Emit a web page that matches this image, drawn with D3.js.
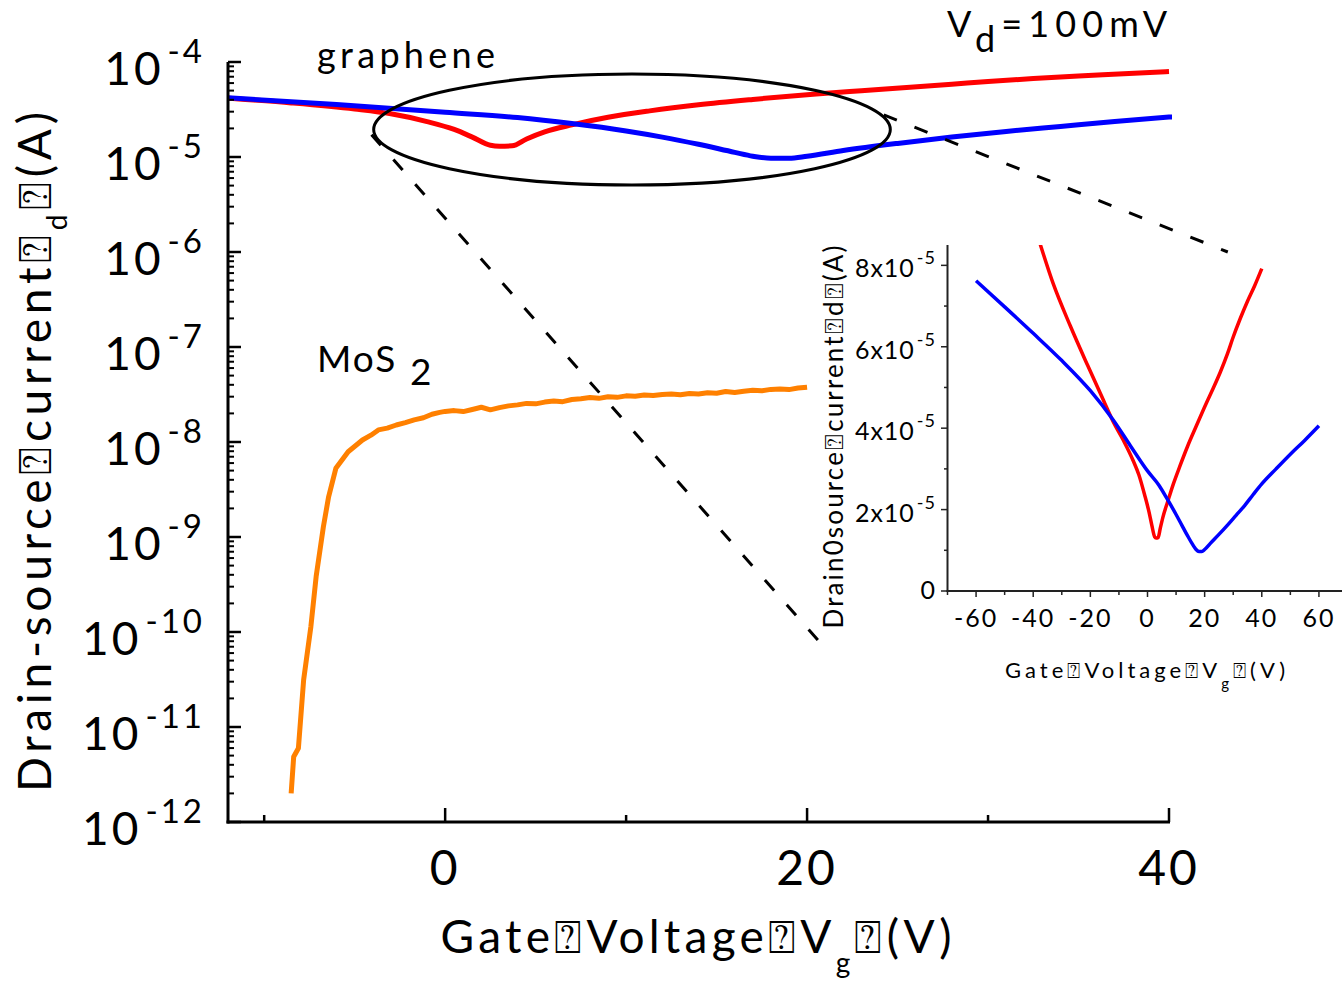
<!DOCTYPE html>
<html><head><meta charset="utf-8">
<script src="https://cdn.jsdelivr.net/npm/d3@7"></script>
<style>
body{margin:0;background:#fff}
svg{display:block}
text{font-family:Lato,"Open Sans",sans-serif;fill:#000}
</style>
</head><body>
<svg id="c" width="1342" height="986"></svg>
<script>
// ---------- data ----------
// graphene, red device: gate voltage (V) and drain current (A)
const redV = [-38, -33, -27, -21, -15, -12, -8.5, -5, -3, -1, 0.5, 1.5, 2.5, 3.0, 3.7, 4.5, 5.5, 7, 9, 11.3, 14, 17, 20.5, 23, 25.5, 28, 30, 32.5, 35, 37.5, 40];
const redI = [8.62e-5, 7.55e-5, 6.51e-5, 5.55e-5, 4.62e-5, 4.16e-5, 3.71e-5, 3.20e-5, 2.85e-5, 2.36e-5, 1.95e-5, 1.62e-5, 1.33e-5, 1.30e-5, 1.31e-5, 1.55e-5, 1.84e-5, 2.18e-5, 2.62e-5, 3.06e-5, 3.55e-5, 4.04e-5, 4.60e-5, 4.98e-5, 5.38e-5, 5.83e-5, 6.24e-5, 6.70e-5, 7.12e-5, 7.50e-5, 7.92e-5];
// graphene, blue device
const blueV = [-60, -50, -40, -30, -20, -12, -6, 0, 4, 7, 10, 12, 14, 16, 17, 18, 19, 20, 22, 25, 28, 31, 34, 37, 40, 45, 50, 55, 60];
const blueI = [7.62e-5, 6.98e-5, 6.33e-5, 5.66e-5, 4.92e-5, 4.20e-5, 3.57e-5, 2.95e-5, 2.60e-5, 2.25e-5, 1.88e-5, 1.62e-5, 1.36e-5, 1.12e-5, 1.02e-5, 0.97e-5, 0.97e-5, 1.02e-5, 1.17e-5, 1.39e-5, 1.62e-5, 1.86e-5, 2.10e-5, 2.37e-5, 2.63e-5, 3.0e-5, 3.36e-5, 3.70e-5, 4.06e-5];
// MoS2 device
const mosV = [-8.51, -8.37, -8.11, -7.82, -7.42, -7.13, -6.73, -6.44, -6.04, -5.36, -4.57, -4.1, -3.69, -3.2, -2.7, -2.2, -1.71, -1.2, -0.73, -0.3,
  0.0, 0.5, 1.0, 1.5, 2.0, 2.5, 3.0, 3.5, 4.0, 4.5, 5.0, 5.5, 6.0, 6.5, 7.0, 7.5, 8.0, 8.5, 9.0, 9.5, 10.0,
  10.5, 11.0, 11.5, 12.0, 12.5, 13.0, 13.5, 14.0, 14.5, 15.0, 15.5, 16.0, 16.5, 17.0, 17.5, 18.0, 18.5, 19.0, 19.5, 20.0];
const mosI = [2.0e-12, 4.86e-12, 5.97e-12, 3.13e-11, 1.14e-10, 3.82e-10, 1.28e-9, 2.65e-9, 5.28e-9, 7.9e-9, 1.05e-8, 1.18e-8, 1.34e-8, 1.40e-8, 1.51e-8, 1.60e-8, 1.71e-8, 1.80e-8, 1.96e-8, 2.05e-8,
  2.10e-8, 2.14e-8, 2.09e-8, 2.20e-8, 2.32e-8, 2.18e-8, 2.30e-8, 2.40e-8, 2.46e-8, 2.55e-8, 2.52e-8, 2.63e-8, 2.70e-8, 2.66e-8, 2.80e-8, 2.86e-8, 2.94e-8, 2.88e-8, 3.00e-8, 2.95e-8, 3.06e-8,
  3.03e-8, 3.12e-8, 3.08e-8, 3.16e-8, 3.20e-8, 3.14e-8, 3.24e-8, 3.20e-8, 3.30e-8, 3.26e-8, 3.40e-8, 3.32e-8, 3.42e-8, 3.50e-8, 3.46e-8, 3.58e-8, 3.62e-8, 3.56e-8, 3.70e-8, 3.78e-8];

// tick labels
const mainXTicks = [0, 20, 40];
const mainXMinor = [-10, 10, 30];
const mainYExp = [-12, -11, -10, -9, -8, -7, -6, -5, -4];
const insetXTicks = [-60, -40, -20, 0, 20, 40, 60];
const insetYTicks = [0, 2e-5, 4e-5, 6e-5, 8e-5];
const insetYLabels = ["0", "2x10", "4x10", "6x10", "8x10"];

// texts
const BOX = "\u2370";
const labelGraphene = "graphene";
const labelMoS = "MoS";

// ---------- drawing ----------
const svg = d3.select("#c");
const C = {red: "#ff0000", blue: "#0000ff", orange: "#ff8000"};

const x = d3.scaleLinear([-12, 40], [228, 1169]);
const y = d3.scaleLog([1e-12, 1e-4], [822, 62]);

const xi = d3.scaleLinear([-70, 70], [947.5, 1347.5]);
const yi = d3.scaleLinear([0, 8.5e-5], [591, 245]);

const defs = svg.append("defs");
defs.append("clipPath").attr("id", "mainClip").append("rect")
  .attr("x", 228).attr("y", 40).attr("width", 1172 - 228).attr("height", 822 - 40);
defs.append("clipPath").attr("id", "insetClip").append("rect")
  .attr("x", 947.5).attr("y", 245).attr("width", 400).attr("height", 346);

const zip = (a, b) => a.map((v, i) => [v, b[i]]);

// main curves
const lineMain = d3.line().x(d => x(d[0])).y(d => y(d[1])).curve(d3.curveMonotoneX);
const gMain = svg.append("g").attr("clip-path", "url(#mainClip)");
gMain.append("path").attr("d", lineMain(zip(redV, redI))).attr("fill", "none").attr("stroke", C.red).attr("stroke-width", 5);
gMain.append("path").attr("d", lineMain(zip(blueV, blueI))).attr("fill", "none").attr("stroke", C.blue).attr("stroke-width", 5);
gMain.append("path").attr("d", d3.line().x(d => x(d[0])).y(d => y(d[1]))(zip(mosV, mosI))).attr("fill", "none").attr("stroke", C.orange).attr("stroke-width", 5).attr("stroke-linejoin", "round");

// main axes
const ax = svg.append("g").attr("stroke", "#000");
ax.append("line").attr("x1", 228).attr("x2", 228).attr("y1", y(1e-4)).attr("y2", 823.5).attr("stroke-width", 3);
ax.append("line").attr("x1", 226.5).attr("x2", 1170).attr("y1", 822).attr("y2", 822).attr("stroke-width", 3);
mainXTicks.forEach(v => ax.append("line").attr("x1", x(v)).attr("x2", x(v)).attr("y1", 822).attr("y2", 808).attr("stroke-width", 2.5));
mainXMinor.forEach(v => ax.append("line").attr("x1", x(v)).attr("x2", x(v)).attr("y1", 822).attr("y2", 815).attr("stroke-width", 2.5));
mainYExp.forEach(e => {
  const v = Math.pow(10, e);
  ax.append("line").attr("x1", 228).attr("x2", 241).attr("y1", y(v)).attr("y2", y(v)).attr("stroke-width", 2.5);
  if (e < -4) for (let m = 2; m <= 9; m++) {
    const yy = y(m * v);
    ax.append("line").attr("x1", 228).attr("x2", 234).attr("y1", yy).attr("y2", yy).attr("stroke-width", 2);
  }
});

// main tick labels
mainXTicks.forEach(v => svg.append("text").attr("x", x(v)).attr("y", 885).attr("text-anchor", "middle")
  .attr("font-size", 48).attr("letter-spacing", 3).text(v));
mainYExp.forEach(e => {
  const t = svg.append("text").attr("x", 205).attr("y", y(Math.pow(10, e)) + 23).attr("text-anchor", "end")
    .attr("font-size", 46).attr("letter-spacing", 3);
  t.append("tspan").text("10");
  t.append("tspan").attr("dx", 4).attr("dy", -22).attr("font-size", 33).text(String(e));
});

// main axis titles
const xt = svg.append("text").attr("x", 696).attr("y", 953).attr("text-anchor", "middle").attr("font-size", 46)
  .attr("textLength", 511).attr("lengthAdjust", "spacing");
xt.append("tspan").text("Gate" + BOX + "Voltage" + BOX + "V");
xt.append("tspan").attr("dy", 20).attr("font-size", 28).text("g");
xt.append("tspan").attr("dy", -20).text(BOX + "(V)");

const yt = svg.append("text").attr("transform", "translate(51,452) rotate(-90)").attr("text-anchor", "middle").attr("font-size", 46)
  .attr("textLength", 680).attr("lengthAdjust", "spacing");
yt.append("tspan").text("Drain-source" + BOX + "current" + BOX);
yt.append("tspan").attr("dy", 16).attr("font-size", 28).text("d");
yt.append("tspan").attr("dy", -16).text(BOX + "(A)");

// annotations
const vd = svg.append("text").attr("x", 947).attr("y", 37).attr("font-size", 36)
  .attr("textLength", 220).attr("lengthAdjust", "spacing");
vd.append("tspan").text("V");
vd.append("tspan").attr("dy", 15).text("d");
vd.append("tspan").attr("dy", -15).text("=100mV");

svg.append("text").attr("x", 317).attr("y", 68).attr("font-size", 36)
  .attr("textLength", 178).attr("lengthAdjust", "spacing").text(labelGraphene);
const mo = svg.append("text").attr("x", 317).attr("y", 372).attr("font-size", 37);
mo.append("tspan").attr("letter-spacing", 2).text(labelMoS);
mo.append("tspan").attr("x", 410).attr("dy", 13).text("2");

// ellipse + zoom guide lines (defined in data coordinates)
const ell = {v0: -3.95, v1: 24.6, i0: 5.07e-6, i1: 7.48e-5};
svg.append("ellipse")
  .attr("cx", (x(ell.v0) + x(ell.v1)) / 2).attr("cy", (y(ell.i0) + y(ell.i1)) / 2)
  .attr("rx", (x(ell.v1) - x(ell.v0)) / 2).attr("ry", (y(ell.i0) - y(ell.i1)) / 2)
  .attr("fill", "none").attr("stroke", "#000").attr("stroke-width", 3);
const guides = [[-4.07, 1.71e-5, 20.6, 8.24e-11], [24.24, 2.77e-5, 43.25, 1.0e-6]];
guides.forEach(g => svg.append("line")
  .attr("x1", x(g[0])).attr("y1", y(g[1])).attr("x2", x(g[2])).attr("y2", y(g[3]))
  .attr("stroke", "#000").attr("stroke-width", 3).attr("stroke-dasharray", "14,19"));

// ---------- inset ----------
const lineInset = d3.line().x(d => xi(d[0])).y(d => yi(d[1])).curve(d3.curveMonotoneX);
const gIn = svg.append("g").attr("clip-path", "url(#insetClip)");
gIn.append("path").attr("d", lineInset(zip(redV, redI))).attr("fill", "none").attr("stroke", C.red).attr("stroke-width", 3.5);
gIn.append("path").attr("d", lineInset(zip(blueV, blueI))).attr("fill", "none").attr("stroke", C.blue).attr("stroke-width", 3.5);

const ai = svg.append("g").attr("stroke", "#222");
ai.append("line").attr("x1", 947.5).attr("x2", 947.5).attr("y1", 245).attr("y2", 592).attr("stroke-width", 2);
ai.append("line").attr("x1", 946.5).attr("x2", 1342).attr("y1", 591).attr("y2", 591).attr("stroke-width", 2);
d3.range(-70, 71, 10).forEach(v => {
  const major = v % 20 === 0;
  ai.append("line").attr("x1", xi(v)).attr("x2", xi(v)).attr("y1", 591).attr("y2", major ? 597 : 595).attr("stroke-width", 1.5);
});
d3.range(0, 8.01e-5, 1e-5).forEach((v, k) => {
  ai.append("line").attr("x1", 947.5).attr("x2", k % 2 === 0 ? 941 : 944).attr("y1", yi(v)).attr("y2", yi(v)).attr("stroke-width", 1.5);
});
insetXTicks.forEach(v => svg.append("text").attr("x", xi(v)).attr("y", 627).attr("text-anchor", "middle")
  .attr("font-size", 25).attr("letter-spacing", 2).text(v));
insetYTicks.forEach((v, k) => {
  const t = svg.append("text").attr("x", 936).attr("y", yi(v) + (k === 0 ? 8 : 12)).attr("text-anchor", "end")
    .attr("font-size", 25).attr("letter-spacing", 1);
  t.append("tspan").text(insetYLabels[k]);
  if (k > 0) t.append("tspan").attr("dx", 2).attr("dy", -13).attr("font-size", 18).text("-5");
});
const ixt = svg.append("text").attr("x", 1145).attr("y", 678).attr("text-anchor", "middle").attr("font-size", 22)
  .attr("textLength", 280).attr("lengthAdjust", "spacing");
ixt.append("tspan").text("Gate" + BOX + "Voltage" + BOX + "V");
ixt.append("tspan").attr("dy", 11).attr("font-size", 15).text("g");
ixt.append("tspan").attr("dy", -11).text(BOX + "(V)");
svg.append("text").attr("transform", "translate(843,437) rotate(-90)").attr("text-anchor", "middle").attr("font-size", 26)
  .attr("textLength", 383).attr("lengthAdjust", "spacing")
  .text("Drain0source" + BOX + "current" + BOX + "d" + BOX + "(A)");
</script>
</body></html>
